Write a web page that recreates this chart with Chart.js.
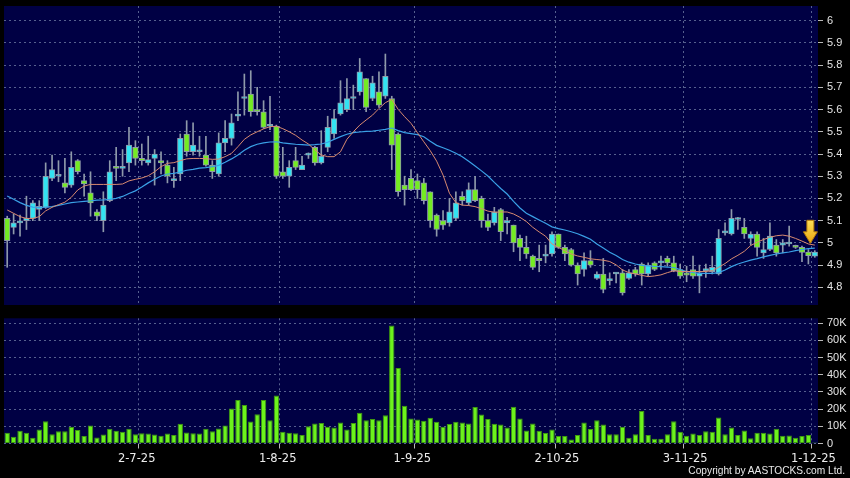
<!DOCTYPE html>
<html><head><meta charset="utf-8">
<script src="https://cdn.jsdelivr.net/npm/chart.js@4"></script>
<style>
html,body{margin:0;padding:0;background:#000;width:850px;height:478px;overflow:hidden}
#c1{position:absolute;left:0;top:0;width:850px;height:312px}
#c2{position:absolute;left:0;top:312px;width:850px;height:166px}
#copy{position:absolute;right:5px;top:465px;font:10.2px 'Liberation Sans',Arial,sans-serif;color:#e8e8e8;line-height:12px;white-space:nowrap}
</style></head><body>
<canvas id="c1" width="850" height="312"></canvas>
<canvas id="c2" width="850" height="166"></canvas>
<div id="copy">Copyright by AASTOCKS.com Ltd.</div>
<script>
// trading days per month (2025)
const jun=[3,4,5,6,9,10,11,12,13,16,17,18,19,20,23,24,25,26,27,30];
const jul=[2,3,4,7,8,9,10,11,14,15,16,17,18,21,22,23,24,25,28,29,30,31];
const aug=[1,4,5,6,7,8,11,12,13,14,15,18,19,20,21,22,25,26,27,28,29];
const sep=[1,2,3,4,5,8,9,10,11,12,15,16,17,18,19,22,23,24,25,26,29,30];
const oct=[2,3,6,8,9,10,13,14,15,16,17,20,21,22,23,24,27,28,30,31];
const nov=[3,4,5,6,7,10,11,12,13,14,17,18,19,20,21,24,25,26,27,28];
const dec=[1,2];
const shownDates=['2-7-25','1-8-25','1-9-25','2-10-25','3-11-25','1-12-25'];

const openP=[5.11,5.07,5.09,5.10,5.11,5.15,5.16,5.29,5.30,5.27,
5.26,5.37,5.28,5.225,5.14,5.10,5.19,5.34,5.335,5.36,
5.43,5.38,5.36,5.38,5.37,5.35,5.28,5.31,5.49,5.41,
5.41,5.395,5.35,5.31,5.45,5.47,5.57,5.65,5.67,5.60,
5.59,5.525,5.525,5.32,5.30,5.37,5.33,5.395,5.43,5.36,
5.43,5.49,5.58,5.60,5.65,5.68,5.74,5.65,5.68,5.66,
5.65,5.49,5.26,5.29,5.28,5.27,5.23,5.125,5.10,5.09,
5.11,5.21,5.18,5.24,5.20,5.10,5.09,5.15,5.09,5.08,
5.02,4.98,4.94,4.93,4.94,4.95,5.04,4.98,4.97,4.90,
4.88,4.92,4.84,4.86,4.83,4.86,4.865,4.84,4.88,4.905,
4.86,4.91,4.91,4.93,4.91,4.88,4.865,4.88,4.85,4.875,
4.87,4.86,5.045,5.04,5.105,5.07,5.02,5.04,4.955,4.97,
4.99,4.99,4.995,4.985,4.98,4.958,4.94];
const closeP=[5.01,5.09,5.09,5.11,5.18,5.165,5.30,5.33,5.30,5.25,
5.34,5.32,5.265,5.18,5.12,5.17,5.32,5.335,5.335,5.44,
5.38,5.37,5.375,5.40,5.36,5.30,5.28,5.47,5.41,5.44,
5.41,5.35,5.32,5.45,5.47,5.54,5.58,5.65,5.59,5.59,
5.52,5.525,5.30,5.30,5.34,5.34,5.35,5.395,5.36,5.39,
5.52,5.56,5.63,5.65,5.65,5.77,5.61,5.72,5.62,5.75,
5.44,5.23,5.24,5.24,5.24,5.19,5.10,5.06,5.08,5.14,
5.18,5.19,5.24,5.19,5.10,5.07,5.14,5.05,5.10,5.00,
4.98,4.95,4.89,4.92,4.95,5.04,4.98,4.95,4.90,4.86,
4.92,4.90,4.86,4.79,4.83,4.865,4.775,4.865,4.86,4.86,
4.90,4.88,4.91,4.91,4.875,4.85,4.855,4.85,4.865,4.875,
4.89,5.02,5.045,5.11,5.105,5.04,5.04,4.98,4.97,5.03,
4.955,5.00,5.00,4.98,4.957,4.942,4.958];
const highP=[5.12,5.13,5.125,5.21,5.19,5.19,5.36,5.395,5.37,5.38,
5.41,5.375,5.31,5.32,5.15,5.23,5.37,5.43,5.42,5.52,
5.46,5.445,5.48,5.42,5.41,5.37,5.34,5.49,5.55,5.54,
5.48,5.48,5.37,5.495,5.55,5.58,5.68,5.76,5.775,5.70,
5.64,5.66,5.53,5.43,5.37,5.43,5.39,5.405,5.435,5.505,
5.57,5.60,5.73,5.74,5.71,5.83,5.74,5.75,5.77,5.85,
5.66,5.495,5.30,5.33,5.31,5.29,5.23,5.13,5.145,5.20,
5.23,5.23,5.27,5.30,5.21,5.13,5.16,5.155,5.115,5.08,
5.035,5.03,4.945,4.99,4.99,5.05,5.04,4.99,4.975,4.91,
4.955,4.965,4.87,4.93,4.865,4.865,4.88,4.88,4.89,4.91,
4.91,4.915,4.94,4.94,4.94,4.905,4.895,4.94,4.90,4.905,
4.94,5.06,5.09,5.15,5.115,5.11,5.05,5.05,5.02,5.09,
5.015,5.015,5.075,4.99,4.985,4.97,4.965];
const lowP=[4.89,5.04,5.03,5.06,5.10,5.10,5.155,5.28,5.275,5.225,
5.25,5.31,5.21,5.12,5.10,5.05,5.185,5.28,5.30,5.32,
5.35,5.35,5.35,5.26,5.31,5.27,5.25,5.28,5.39,5.395,
5.39,5.345,5.29,5.30,5.41,5.44,5.55,5.575,5.57,5.575,
5.515,5.51,5.29,5.29,5.25,5.33,5.33,5.38,5.35,5.355,
5.41,5.47,5.575,5.59,5.60,5.665,5.59,5.64,5.61,5.65,
5.33,5.21,5.17,5.235,5.20,5.175,5.07,5.03,5.06,5.075,
5.10,5.17,5.17,5.185,5.07,5.055,5.08,5.01,5.04,4.96,
4.92,4.93,4.88,4.87,4.91,4.94,4.975,4.92,4.895,4.81,
4.85,4.89,4.835,4.775,4.81,4.82,4.765,4.835,4.85,4.81,
4.85,4.875,4.88,4.895,4.87,4.84,4.825,4.84,4.775,4.845,
4.86,4.855,5.035,5.035,5.06,5.02,4.99,4.94,4.93,4.965,
4.94,4.955,4.985,4.975,4.915,4.905,4.935];
const maShort=[5.148,5.133,5.118,5.110,5.110,5.118,5.144,5.160,5.172,5.183,
5.205,5.238,5.256,5.263,5.263,5.263,5.263,5.263,5.265,5.279,
5.286,5.292,5.302,5.320,5.343,5.358,5.361,5.370,5.378,5.380,
5.380,5.379,5.376,5.377,5.388,5.403,5.433,5.466,5.486,5.500,
5.513,5.523,5.525,5.514,5.500,5.484,5.463,5.445,5.418,5.396,
5.388,5.388,5.410,5.466,5.500,5.530,5.553,5.575,5.605,5.631,
5.646,5.601,5.568,5.538,5.496,5.455,5.415,5.368,5.305,5.223,
5.181,5.170,5.168,5.163,5.154,5.143,5.138,5.139,5.139,5.130,
5.115,5.096,5.070,5.049,5.030,4.995,4.980,4.965,4.950,4.941,
4.935,4.928,4.925,4.922,4.916,4.901,4.878,4.866,4.860,4.854,
4.848,4.851,4.856,4.866,4.874,4.871,4.871,4.871,4.871,4.871,
4.875,4.890,4.907,4.928,4.944,4.962,4.988,5.003,5.015,5.025,
5.032,5.035,5.030,5.020,5.008,4.995,4.990];
const maLong=[5.211,5.196,5.181,5.169,5.161,5.160,5.161,5.163,5.169,5.175,
5.181,5.184,5.187,5.189,5.192,5.193,5.196,5.200,5.209,5.222,
5.234,5.251,5.270,5.286,5.301,5.310,5.313,5.319,5.327,5.331,
5.336,5.339,5.343,5.349,5.363,5.378,5.396,5.417,5.433,5.444,
5.450,5.454,5.455,5.450,5.447,5.444,5.442,5.440,5.442,5.445,
5.453,5.466,5.478,5.489,5.496,5.499,5.502,5.503,5.507,5.511,
5.517,5.505,5.496,5.492,5.487,5.478,5.457,5.439,5.428,5.417,
5.403,5.388,5.367,5.346,5.324,5.301,5.272,5.245,5.220,5.187,
5.157,5.133,5.118,5.103,5.088,5.072,5.064,5.058,5.050,5.041,
5.029,5.016,4.995,4.977,4.958,4.943,4.925,4.913,4.905,4.899,
4.896,4.894,4.893,4.891,4.889,4.880,4.871,4.866,4.863,4.863,
4.863,4.866,4.878,4.893,4.905,4.914,4.922,4.929,4.937,4.944,
4.950,4.955,4.959,4.965,4.970,4.974,4.976];
const volume=[6200,3900,7400,6200,3300,8200,13000,5400,7200,7200,
9700,7800,4300,10500,3500,5300,8600,7400,6800,8600,
5400,6000,5800,5300,4500,5800,4900,11500,6400,6000,
5800,8600,7200,8800,10500,20400,25300,22400,12800,17100,
25300,13600,28000,6800,6200,6000,4900,10100,11700,12000,
9700,9300,12300,8200,12000,17900,13600,14200,13600,16500,
68700,44000,22000,14600,14000,13200,15000,12600,9700,11300,
12600,12300,11700,21200,16900,14200,11500,11100,9300,21400,
14600,7600,11700,7400,6100,8200,4300,4300,2300,4900,
12300,8400,13600,11100,5400,5400,9700,3300,5400,18900,
4900,2700,2700,5400,13000,6800,4500,5800,4900,7200,
6800,15200,5400,9300,4900,7600,3100,6200,6200,5800,
8600,4500,4700,3300,4300,4900,600];
const priceTickValues=[4.8,4.9,5.0,5.1,5.2,5.3,5.4,5.5,5.6,5.7,5.8,5.9,6.0];
const priceTickLabels=['4.8','4.9','5','5.1','5.2','5.3','5.4','5.5','5.6','5.7','5.8','5.9','6'];
const volTickValues=[0,10000,20000,30000,40000,50000,60000,70000];
const volTickLabels=['0','10K','20K','30K','40K','50K','60K','70K'];

const dates=[];
[[jun,6],[jul,7],[aug,8],[sep,9],[oct,10],[nov,11],[dec,12]].forEach(([days,m])=>days.forEach(d=>dates.push(d+'-'+m+'-25')));
const shownIdx=shownDates.map(s=>dates.indexOf(s));

const NAVY='#000044', GRID='#56608e', WICK='#8e99aa', UP='#33e3f2', DOWN='#74ec22';
const DASH=[2,3];
const bg={id:'bg',beforeDraw(c){const a=c.chartArea,x=c.ctx;x.save();x.fillStyle=NAVY;x.fillRect(a.left,a.top,a.right-a.left,a.bottom-a.top);x.restore();}};
const vGrid=ctx=>shownIdx.includes(ctx.index-1)?GRID:'rgba(0,0,0,0)';
const vTick=ctx=>shownIdx.includes(ctx.index-1)?'#b8b8b8':'rgba(0,0,0,0)';
function noPad(s){s.paddingTop=0;s.paddingBottom=0;s.paddingLeft=0;s.paddingRight=0;}

const arrow={id:'arrow',afterDatasetsDraw(c){
  const x=c.scales.x,y=c.scales.y,g=c.ctx;
  const cx=x.getPixelForValue(125)+2, tip=y.getPixelForValue(4.998);
  g.save();
  const gr=g.createLinearGradient(0,tip-24,0,tip);gr.addColorStop(0,'#ffe25a');gr.addColorStop(1,'#e8a410');
  g.fillStyle=gr;g.strokeStyle='#b57a08';g.lineWidth=1;
  g.beginPath();g.moveTo(cx-3.5,tip-23);g.lineTo(cx+3.5,tip-23);g.lineTo(cx+3.5,tip-11.5);g.lineTo(cx+7,tip-11.5);
  g.lineTo(cx,tip);g.lineTo(cx-7,tip-11.5);g.lineTo(cx-3.5,tip-11.5);g.closePath();g.fill();g.stroke();
  g.restore();}};

new Chart(document.getElementById('c1'),{
  type:'bar',
  data:{labels:dates,datasets:[
    {type:'line',data:maShort,borderColor:'#d88a70',borderWidth:1,pointRadius:0,tension:0,order:0},
    {type:'line',data:maLong,borderColor:'#3aa0e6',borderWidth:1.2,pointRadius:0,tension:0,order:0},
    {type:'bar',data:openP.map((o,i)=>[o,closeP[i]]),backgroundColor:ctx=>closeP[ctx.dataIndex]>=openP[ctx.dataIndex]?UP:DOWN,
     borderColor:WICK,borderWidth:1,borderSkipped:false,barThickness:5.6,grouped:false,minBarLength:2,order:1},
    {type:'bar',data:lowP.map((l,i)=>[l,highP[i]]),backgroundColor:WICK,barThickness:1,grouped:false,order:2}
  ]},
  options:{animation:false,responsive:false,maintainAspectRatio:false,events:[],
    layout:{padding:{left:4,top:6,right:0,bottom:7}},
    plugins:{legend:{display:false},tooltip:{enabled:false}},
    scales:{
      x:{offset:true,grid:{offset:true,color:vGrid,drawTicks:false,borderDash:DASH},border:{display:false,dash:DASH},
         ticks:{display:false,autoSkip:false},afterFit(s){s.height=0;noPad(s);}},
      y:{position:'right',min:4.7203,max:6.0662,
         afterBuildTicks(s){s.ticks=priceTickValues.map(v=>({value:v}));},
         ticks:{color:'#e4e4e4',font:{family:'Liberation Sans',size:11},padding:4,callback:(v,i)=>priceTickLabels[i]},
         grid:{color:GRID,tickColor:'#b8b8b8',tickLength:5,borderDash:DASH,tickBorderDash:[]},border:{display:false,dash:DASH},
         afterFit(s){s.width=32;noPad(s);}}
    }},
  plugins:[bg,arrow]
});

new Chart(document.getElementById('c2'),{
  type:'bar',
  data:{labels:dates,datasets:[
    {data:volume,backgroundColor:'#6cf21c',borderColor:'#3f9a10',borderWidth:1,borderSkipped:false,barPercentage:1,categoryPercentage:0.84}
  ]},
  options:{animation:false,responsive:false,maintainAspectRatio:false,events:[],
    layout:{padding:{left:4,top:6.3,right:0,bottom:0}},
    plugins:{legend:{display:false},tooltip:{enabled:false}},
    scales:{
      x:{offset:true,grid:{offset:true,color:vGrid,tickColor:vTick,tickLength:5,borderDash:DASH,tickBorderDash:[]},border:{display:false,dash:DASH},
         ticks:{autoSkip:false,maxRotation:0,minRotation:0,align:'start',labelOffset:-17.5,padding:4,color:'#ececec',
                font:{family:'DejaVu Sans',size:11.5},callback:(v,i)=>shownIdx.includes(i)?dates[i]:''},
         afterFit(s){s.height=34.5;noPad(s);}},
      y:{position:'right',min:0,max:72900,
         afterBuildTicks(s){s.ticks=volTickValues.map(v=>({value:v}));},
         ticks:{color:'#e4e4e4',font:{family:'Liberation Sans',size:11},padding:4,callback:(v,i)=>volTickLabels[i]},
         grid:{color:GRID,tickColor:'#b8b8b8',tickLength:5,borderDash:DASH,tickBorderDash:[]},border:{display:false,dash:DASH},
         afterFit(s){s.width=32;noPad(s);}}
    }},
  plugins:[bg]
});
</script>
</body></html>
